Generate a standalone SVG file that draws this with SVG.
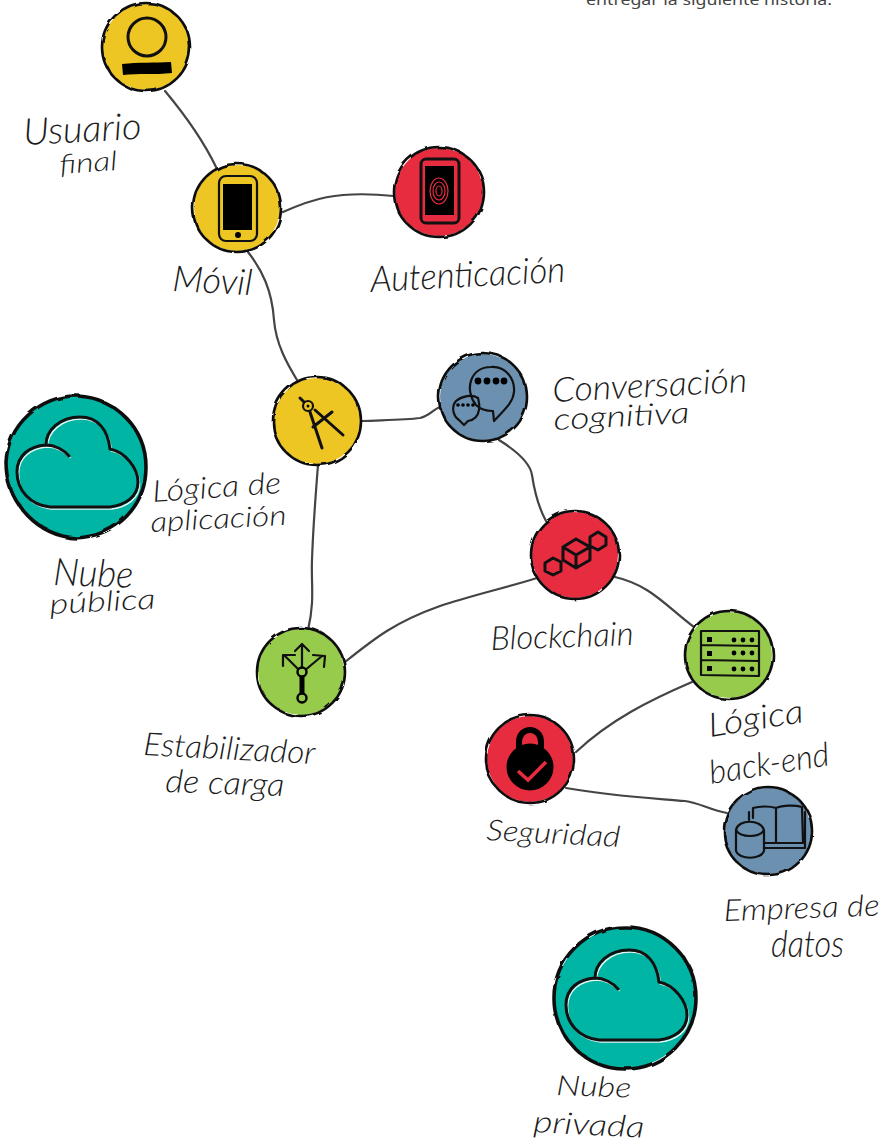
<svg xmlns="http://www.w3.org/2000/svg" width="891" height="1141" viewBox="0 0 891 1141">
<style>
.bg{fill:#fff}
.y{fill:#eec624}.r{fill:#e72c40}.b{fill:#6b90b0}.g{fill:#97cb4b}.t{fill:#00b5a4}
.o{fill:none;stroke:#111;stroke-width:2.6;filter:url(#w)}
.oc{fill:none;stroke:#111;stroke-width:3.6;filter:url(#w)}
.i{fill:none;stroke:#111;stroke-width:3;stroke-linecap:round;stroke-linejoin:round}
.s{fill:none;stroke:#111;stroke-width:2.2;stroke-linecap:round;stroke-linejoin:round}
.k{fill:#000;stroke:none}
.h{fill:none;stroke:#e8f4f2;stroke-width:1.6}
#connectors path{fill:none;stroke:#444;stroke-width:2.2;stroke-linecap:round}
text.l{font-family:Lato,"Liberation Sans",sans-serif;font-style:italic;font-weight:300;fill:#1c1c1c}
text.n{font-family:"Noto Sans","Liberation Sans",sans-serif;font-size:15px;fill:#444}
</style>
<defs>
<filter id="w" x="-10%" y="-10%" width="120%" height="120%"><feTurbulence type="fractalNoise" baseFrequency="0.06" numOctaves="2" seed="4"/><feDisplacementMap in="SourceGraphic" scale="3.5"/></filter>
<path id="cp" d="M-32,-17C-32,-32 -18,-45 2,-45C20,-45 30,-32 32,-13C47,-10 60,6 60,20C60,35 47,43 32,45L-28,45C-48,43 -61,28 -61,10C-61,-7 -48,-16 -32,-17C-23,-17 -14,-12 -9,-6"/>
<g id="cloud"><use href="#cp" class="h" transform="translate(1.5,2)"/><use href="#cp" class="i"/></g>
</defs>
<rect class="bg" width="891" height="1141"/>
<text class="n" x="586" y="5" textLength="246" lengthAdjust="spacingAndGlyphs">entregar la siguiente historia.</text>
<g id="connectors">
<path d="M165,91C185,115 203,140 216,167"/>
<path d="M283,212C310,200 335,190 394,196"/>
<path d="M248,252C262,270 272,290 274,320C276,345 288,365 297,380"/>
<path d="M362,421C385,420 405,420 420,418C430,416 432,410 440,407"/>
<path d="M318,465C316,490 313,530 312,560C311,585 315,600 308,630"/>
<path d="M499,440C515,450 530,462 532,475C535,495 540,510 546,521"/>
<path d="M345,662C375,638 395,622 440,606C470,596 505,588 537,578"/>
<path d="M615,577C650,585 665,605 694,627"/>
<path d="M692,682C650,700 610,720 576,752"/>
<path d="M566,788C610,796 650,798 685,801C700,803 710,810 727,813"/>
</g>
<g id="node-usuario"><circle class="y" cx="146" cy="47" r="43"/><circle class="o" cx="146" cy="47" r="44"/><circle class="i" cx="147" cy="37" r="19"/><path class="k" d="M122,64C138,62 155,63 171,62L172,73C155,75 138,73 123,75Z"/></g>
<g id="node-movil"><circle class="y" cx="237" cy="208" r="43"/><circle class="o" cx="237" cy="208" r="44"/><rect class="s" x="219" y="176" width="38" height="65" rx="7"/><rect class="k" x="223" y="184" width="29" height="46"/><circle class="k" cx="238" cy="235" r="3"/></g>
<g id="node-autenticacion"><circle class="r" cx="439" cy="192" r="44"/><circle class="o" cx="439" cy="192" r="45"/><rect class="i" x="421" y="159" width="38" height="64" rx="5"/><rect class="k" x="425" y="166" width="29" height="49"/><g fill="none" stroke="#e72c40" stroke-width="1.2"><ellipse cx="439" cy="191" rx="3" ry="5"/><ellipse cx="439" cy="191" rx="6" ry="9"/><ellipse cx="439" cy="191" rx="9" ry="13"/></g><circle cx="440" cy="219" r="2" fill="#e72c40"/></g>
<g id="node-logica-app"><circle class="y" cx="317" cy="421" r="43"/><circle class="o" cx="317" cy="421" r="44"/><circle class="s" cx="308" cy="406" r="5"/><circle class="k" cx="308" cy="406" r="1.5"/><path class="i" d="M300,398L304,402M315,410L343,435M310,412L322,448M313,427L332,412"/></g>
<g id="node-conversacion"><circle class="b" cx="483" cy="397" r="43"/><circle class="o" cx="483" cy="397" r="44"/><path class="s" d="M476,405C464,390 470,367 491,367C506,366 515,379 514,392C513,403 504,410 494,421L493,411C486,411 480,409 476,405Z"/><path class="s" d="M478,398C472,394 462,396 456,401C451,407 453,416 459,420L464,425L468,421C474,420 478,416 479,410C480,405 479,402 478,398Z"/><g class="k"><circle cx="478" cy="381" r="3.4"/><circle cx="487" cy="381" r="3.4"/><circle cx="496" cy="381" r="3.4"/><circle cx="504" cy="381" r="3.4"/><circle cx="458" cy="405" r="1.8"/><circle cx="463" cy="405" r="1.8"/><circle cx="468" cy="405" r="1.8"/><circle cx="473" cy="405" r="1.8"/></g></g>
<g id="node-blockchain"><circle class="r" cx="575" cy="555" r="43"/><circle class="o" cx="575" cy="555" r="44"/><path class="i" d="M563,547L576,539L590,547L590,560L576,568L563,560ZM563,547L576,555L590,547M576,555L576,568M545,563L553,558L561,562L561,571L553,575L545,571ZM590,537L598,532L606,537L606,545L598,550L590,546Z"/></g>
<g id="node-backend"><circle class="g" cx="729" cy="655" r="43"/><circle class="o" cx="729" cy="655" r="44"/><path class="s" d="M701,631L759,631L759,676L701,675ZM701,645L759,646M701,660L759,661"/><g class="k"><rect x="707" y="637" width="5" height="5"/><rect x="707" y="651" width="5" height="5"/><rect x="707" y="666" width="5" height="5"/><circle cx="734" cy="640" r="2.4"/><circle cx="743" cy="640" r="2.4"/><circle cx="752" cy="640" r="2.4"/><circle cx="734" cy="653" r="2.4"/><circle cx="743" cy="653" r="2.4"/><circle cx="752" cy="653" r="2.4"/><circle cx="734" cy="669" r="2.4"/><circle cx="743" cy="669" r="2.4"/><circle cx="752" cy="669" r="2.4"/></g></g>
<g id="node-seguridad"><circle class="r" cx="530" cy="759" r="43"/><circle class="o" cx="530" cy="759" r="44"/><path fill="none" stroke="#000" stroke-width="6" d="M519,752L519,742C519,726 541,726 541,742L541,752"/><circle class="k" cx="530" cy="767" r="23.5"/><path fill="none" stroke="#e72c40" stroke-width="3.5" d="M518,771L528,780L546,762"/></g>
<g id="node-empresa"><circle class="b" cx="768" cy="831" r="43"/><circle class="o" cx="768" cy="831" r="44"/><path class="s" d="M753,818L753,808C760,806 770,806 776,808C783,805 795,805 802,807L803,843L765,843M776,808L776,842M765,848L805,848L805,812M749,812L749,820"/><path class="s" d="M736,830C738,819 761,819 764,830L764,851C761,860 739,860 736,851ZM736,830C740,838 760,838 764,830"/></g>
<g id="node-balancer"><circle class="g" cx="301" cy="672" r="43"/><circle class="o" cx="301" cy="672" r="44"/><path class="s" d="M302,670L302,645M300,671L285,656M304,671L322,656M295,651L302,644L309,651M283,666L283,655L295,655M313,655L325,656L324,667"/><path stroke="#000" stroke-width="5" d="M302,676L302,694"/><circle cx="302" cy="672" r="4.5" fill="#97cb4b" stroke="#000" stroke-width="2.4"/><circle cx="302" cy="698" r="4.5" fill="#97cb4b" stroke="#000" stroke-width="2.4"/></g>
<g id="node-nube-publica"><path class="t" d="M6,462C8,425 40,395 78,396C115,398 146,428 146,467C146,505 118,536 76,538C40,536 6,505 6,462Z"/><path class="oc" d="M6,462C8,425 40,395 78,396C115,398 146,428 146,467C146,505 118,536 76,538C40,536 6,505 6,462Z"/><use href="#cloud" transform="translate(78,462)"/></g>
<g id="node-nube-privada"><circle class="t" cx="625" cy="998" r="70"/><circle class="oc" cx="625" cy="998" r="71"/><use href="#cloud" transform="translate(627,995)"/></g>
<g id="labels">
<text class="l" font-size="37" x="24" y="145" textLength="118" lengthAdjust="spacingAndGlyphs" transform="rotate(-3 24 145)">Usuario</text>
<text class="l" font-size="27" x="60" y="174" textLength="58" lengthAdjust="spacingAndGlyphs" transform="rotate(-4 60 174)">final</text>
<text class="l" font-size="36" x="172" y="291" textLength="80" lengthAdjust="spacingAndGlyphs" transform="rotate(3 172 291)">Móvil</text>
<text class="l" font-size="36" x="371" y="292" textLength="195" lengthAdjust="spacingAndGlyphs" transform="rotate(-3 371 292)">Autenticación</text>
<text class="l" font-size="34" x="553" y="402" textLength="195" lengthAdjust="spacingAndGlyphs" transform="rotate(-3 553 402)">Conversación</text>
<text class="l" font-size="30" x="554" y="430" textLength="136" lengthAdjust="spacingAndGlyphs" transform="rotate(-3 554 430)">cognitiva</text>
<text class="l" font-size="30" x="153" y="502" textLength="129" lengthAdjust="spacingAndGlyphs" transform="rotate(-4 153 502)">Lógica de</text>
<text class="l" font-size="28" x="151" y="532" textLength="136" lengthAdjust="spacingAndGlyphs" transform="rotate(-3 151 532)">aplicación</text>
<text class="l" font-size="38" x="53" y="585" textLength="80" lengthAdjust="spacingAndGlyphs" transform="rotate(2 53 585)">Nube</text>
<text class="l" font-size="28" x="50" y="614" textLength="106" lengthAdjust="spacingAndGlyphs" transform="rotate(-3 50 614)">pública</text>
<text class="l" font-size="33" x="491" y="650" textLength="143" lengthAdjust="spacingAndGlyphs" transform="rotate(-2 491 650)">Blockchain</text>
<text class="l" font-size="32" x="143" y="755" textLength="172" lengthAdjust="spacingAndGlyphs" transform="rotate(3 143 755)">Estabilizador</text>
<text class="l" font-size="32" x="165" y="792" textLength="119" lengthAdjust="spacingAndGlyphs" transform="rotate(2 165 792)">de carga</text>
<text class="l" font-size="33" x="710" y="737" textLength="96" lengthAdjust="spacingAndGlyphs" transform="rotate(-9 710 737)">Lógica</text>
<text class="l" font-size="33" x="711" y="784" textLength="121" lengthAdjust="spacingAndGlyphs" transform="rotate(-9 711 784)">back-end</text>
<text class="l" font-size="29" x="486" y="840" textLength="134" lengthAdjust="spacingAndGlyphs" transform="rotate(3 486 840)">Seguridad</text>
<text class="l" font-size="30" x="724" y="921" textLength="156" lengthAdjust="spacingAndGlyphs" transform="rotate(-2 724 921)">Empresa de</text>
<text class="l" font-size="38" x="771" y="957" textLength="73" lengthAdjust="spacingAndGlyphs">datos</text>
<text class="l" font-size="28" x="556" y="1095" textLength="75" lengthAdjust="spacingAndGlyphs" transform="rotate(2 556 1095)">Nube</text>
<text class="l" font-size="30" x="533" y="1132" textLength="111" lengthAdjust="spacingAndGlyphs" transform="rotate(3 533 1132)">privada</text>
</g>
</svg>
